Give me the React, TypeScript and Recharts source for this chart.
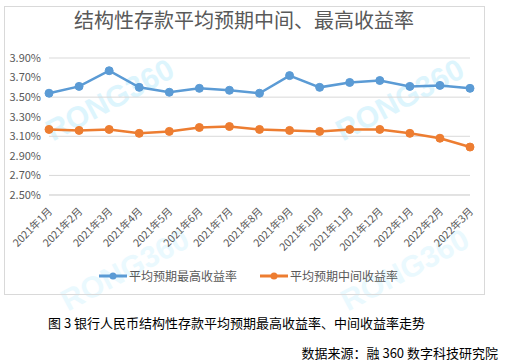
import { LineChart, Line, XAxis, YAxis, CartesianGrid } from 'recharts';

const months = [
  '2021年1月', '2021年2月', '2021年3月', '2021年4月', '2021年5月', '2021年6月', '2021年7月', '2021年8月',
  '2021年9月', '2021年10月', '2021年11月', '2021年12月', '2022年1月', '2022年2月', '2022年3月',
];
const highRate = [3.54, 3.61, 3.77, 3.6, 3.55, 3.59, 3.57, 3.54, 3.72, 3.6, 3.65, 3.67, 3.61, 3.62, 3.59];
const midRate = [3.17, 3.16, 3.17, 3.13, 3.15, 3.19, 3.2, 3.17, 3.16, 3.15, 3.17, 3.17, 3.13, 3.08, 2.99];
const yTicks = [2.5, 2.7, 2.9, 3.1, 3.3, 3.5, 3.7, 3.9];

const BLUE = '#5b9bd5';
const ORANGE = '#ed7d31';
const GRAY = '#595959';
const FONT = '"Noto Sans CJK SC", "Noto Sans", sans-serif';

const data = months.map((m, i) => ({ month: m, high: highRate[i], mid: midRate[i] }));

const watermarks = [
  { x: 110, y: 100 },
  { x: 400, y: 100 },
  { x: 125, y: 270 },
  { x: 405, y: 270 },
];

function XTick({ x, y, payload }: any) {
  return (
    <text
      x={x + 4}
      y={y + 9}
      transform={`rotate(-45, ${x + 4}, ${y + 9})`}
      textAnchor="end"
      fontSize={10.5}
      fill={GRAY}
      fontFamily={FONT}
    >
      {payload.value}
    </text>
  );
}

function LegendItem({ color, label }: { color: string; label: string }) {
  return (
    <div style={{ display: 'flex', alignItems: 'center', marginRight: 22 }}>
      <svg width={30} height={10}>
        <line x1={1} y1={5} x2={29} y2={5} stroke={color} strokeWidth={3} />
        <circle cx={15} cy={5} r={3.5} fill={color} />
      </svg>
      <span style={{ fontSize: 12, color: GRAY, marginLeft: 1 }}>{label}</span>
    </div>
  );
}

export default function App() {
  return (
    <div style={{ position: 'absolute', left: 0, top: 0, width: 506, height: 364, background: '#fff', fontFamily: FONT, overflow: 'hidden' }}>
      {watermarks.map((w, i) => (
        <div
          key={i}
          style={{
            position: 'absolute',
            left: w.x - 80,
            top: w.y - 20,
            width: 160,
            textAlign: 'center',
            fontSize: 30,
            fontWeight: 700,
            fontFamily: 'Arial, "Liberation Sans", sans-serif',
            color: i < 2 ? '#ddf5fd' : '#eaf9fe',
            transform: 'rotate(-28deg)',
            lineHeight: '40px',
          }}
        >
          RONG360
        </div>
      ))}
      <div
        style={{
          position: 'absolute',
          left: 4,
          top: 6,
          width: 479,
          height: 287,
          border: '1px solid #d9d9d9',
        }}
      />
      <div style={{ position: 'absolute', left: 4, top: 5, width: 480, textAlign: 'center', fontSize: 20, color: GRAY, lineHeight: '30px' }}>
        结构性存款平均预期中间、最高收益率
      </div>
      <div style={{ position: 'absolute', left: 4, top: 6 }}>
        <LineChart width={480} height={288} data={data} margin={{ top: 52, right: 14, left: 0, bottom: 0 }}>
          <CartesianGrid vertical={false} stroke="#d9d9d9" />
          <XAxis
            dataKey="month"
            height={99}
            interval={0}
            tickLine={false}
            axisLine={{ stroke: '#d9d9d9' }}
            tick={<XTick />}
          />
          <YAxis
            width={45}
            domain={[2.5, 3.9]}
            ticks={yTicks}
            axisLine={false}
            tickLine={false}
            tickFormatter={(v: number) => `${v.toFixed(2)}%`}
            tick={{ fill: GRAY, fontSize: 11, fontFamily: FONT }}
          />
          <Line
            dataKey="high"
            stroke={BLUE}
            strokeWidth={2.5}
            dot={{ r: 4, fill: BLUE, stroke: BLUE, strokeWidth: 1 }}
            isAnimationActive={false}
          />
          <Line
            dataKey="mid"
            stroke={ORANGE}
            strokeWidth={2.5}
            dot={{ r: 4, fill: ORANGE, stroke: ORANGE, strokeWidth: 1 }}
            isAnimationActive={false}
          />
        </LineChart>
      </div>
      <div style={{ position: 'absolute', left: 98, top: 267, display: 'flex' }}>
        <LegendItem color={BLUE} label="平均预期最高收益率" />
        <LegendItem color={ORANGE} label="平均预期中间收益率" />
      </div>
      <div style={{ position: 'absolute', left: 48, top: 313, fontSize: 13, color: '#000', whiteSpace: 'nowrap' }}>
        图 3 银行人民币结构性存款平均预期最高收益率、中间收益率走势
      </div>
      <div style={{ position: 'absolute', right: 8, top: 343, fontSize: 13, color: '#000', whiteSpace: 'nowrap' }}>
        数据来源：融 360 数字科技研究院
      </div>
    </div>
  );
}
